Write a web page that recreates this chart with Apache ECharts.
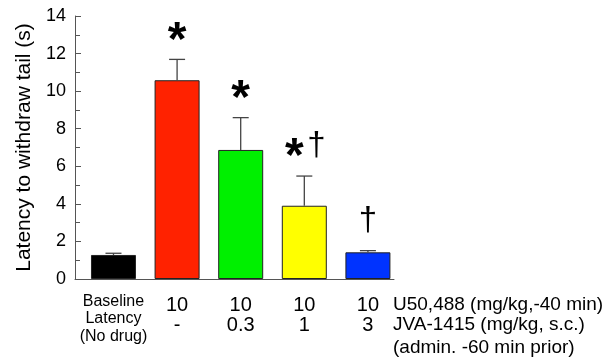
<!DOCTYPE html>
<html>
<head>
<meta charset="utf-8">
<script src="https://cdn.jsdelivr.net/npm/echarts@6/dist/echarts.min.js"></script>
<style>
html,body{margin:0;padding:0;background:#fff;}
#chart{width:614px;height:360px;}
</style>
</head>
<body>
<div id="chart"></div>
<script>
// ---- data ----
const baselineLabel = 'Baseline\nLatency\n(No drug)';
const u50Doses = ['', '10', '10', '10', '10'];
const jvaDoses = ['', '-', '0.3', '1', '3'];
const means = [1.28, 10.58, 6.87, 3.90, 1.42];
const sems = [0.09, 1.11, 1.72, 1.58, 0.09];
const starMarks = ['', '*', '*', '*', ''];
const daggerMarks = ['', '', '', '†', '†'];
const barColors = ['#000000', '#ff2200', '#00f000', '#ffff00', '#0033ff'];
const rowTitles = ['U50,488 (mg/kg,-40 min)', 'JVA-1415 (mg/kg, s.c.)', '(admin. -60 min prior)'];
const yTicks = [0, 2, 4, 6, 8, 10, 12, 14];
const yName = 'Latency to withdraw tail (s)';

const FONT = '"Liberation Sans", Arial, sans-serif';
const chart = echarts.init(document.getElementById('chart'), null, {renderer: 'canvas'});

const barData = means.map((m, i) => ({value: [i, m], itemStyle: {color: barColors[i]}}));
const errData = means.map((m, i) => [i, m, sems[i]]);
const lblData = means.map((m, i) => [i, 0]);

const option = {
  animation: false,
  backgroundColor: '#fff',
  grid: {left: 75, right: 220, top: 16, bottom: 81},
  xAxis: {
    type: 'value', min: -0.605, max: 4.41,
    axisLine: {show: true, onZero: false, lineStyle: {color: '#555', width: 1}},
    axisTick: {show: false}, axisLabel: {show: false}, splitLine: {show: false}
  },
  yAxis: {
    type: 'value', min: yTicks[0], max: yTicks[yTicks.length - 1], interval: 2,
    name: yName, nameLocation: 'middle', nameGap: 37,
    nameTextStyle: {fontFamily: FONT, fontSize: 21, color: '#000'},
    axisLine: {show: true, onZero: false, lineStyle: {color: '#555', width: 1}},
    axisTick: {show: true, inside: true, length: 6, lineStyle: {color: '#555'}},
    minorTick: {show: true, splitNumber: 2, length: 5, lineStyle: {color: '#555'}},
    axisLabel: {fontFamily: FONT, fontSize: 18, color: '#000', margin: 9},
    splitLine: {show: false}
  },
  series: [
    {
      type: 'bar', data: barData, barWidth: 45,
      itemStyle: {borderColor: '#222', borderWidth: 1}
    },
    {
      type: 'custom', data: errData, z: 3, clip: false,
      renderItem: function (params, api) {
        const i = api.value(0), m = api.value(1), s = api.value(2);
        const base = api.coord([i, m]);
        const top = api.coord([i, m + s]);
        const children = [
          {type: 'line', shape: {x1: base[0], y1: base[1], x2: top[0], y2: top[1]}, style: {stroke: '#444', lineWidth: 1.3}},
          {type: 'line', shape: {x1: top[0] - 8, y1: top[1], x2: top[0] + 8, y2: top[1]}, style: {stroke: '#444', lineWidth: 1.3}}
        ];
        const star = starMarks[i], dag = daggerMarks[i];
        const both = star && dag;
        if (star) {
          children.push({type: 'text', style: {x: top[0] + (both ? -10 : 0), y: top[1] - 18, text: star,
            font: 'bold 48px ' + FONT, fill: '#000', align: 'center', verticalAlign: 'middle'}});
        }
        if (dag) {
          children.push({type: 'text', style: {x: top[0] + (both ? 12 : 0), y: top[1] - 30, text: dag,
            font: '33px ' + FONT, fill: '#000', align: 'center', verticalAlign: 'middle'}});
        }
        return {type: 'group', children: children};
      }
    },
    {
      type: 'custom', data: lblData, z: 3, clip: false,
      renderItem: function (params, api) {
        const i = api.value(0);
        const p = api.coord([i, 0]);
        const children = [];
        if (i === 0) {
          children.push({type: 'text', style: {x: p[0], y: p[1] + 40, text: baselineLabel,
            font: '16px ' + FONT, lineHeight: 17.5, fill: '#000', align: 'center', verticalAlign: 'middle'}});
        } else {
          children.push({type: 'text', style: {x: p[0], y: p[1] + 26, text: u50Doses[i],
            font: '20px ' + FONT, fill: '#000', align: 'center', verticalAlign: 'middle'}});
          children.push({type: 'text', style: {x: p[0], y: p[1] + 46, text: jvaDoses[i],
            font: '20px ' + FONT, fill: '#000', align: 'center', verticalAlign: 'middle'}});
        }
        return {type: 'group', children: children};
      }
    }
  ],
  graphic: rowTitles.map((t, k) => ({
    type: 'text', x: 393, y: [305, 325, 348][k],
    style: {text: t, font: '19px ' + FONT, fill: '#000', align: 'left', verticalAlign: 'middle'}
  }))
};
chart.setOption(option);
</script>
</body>
</html>
